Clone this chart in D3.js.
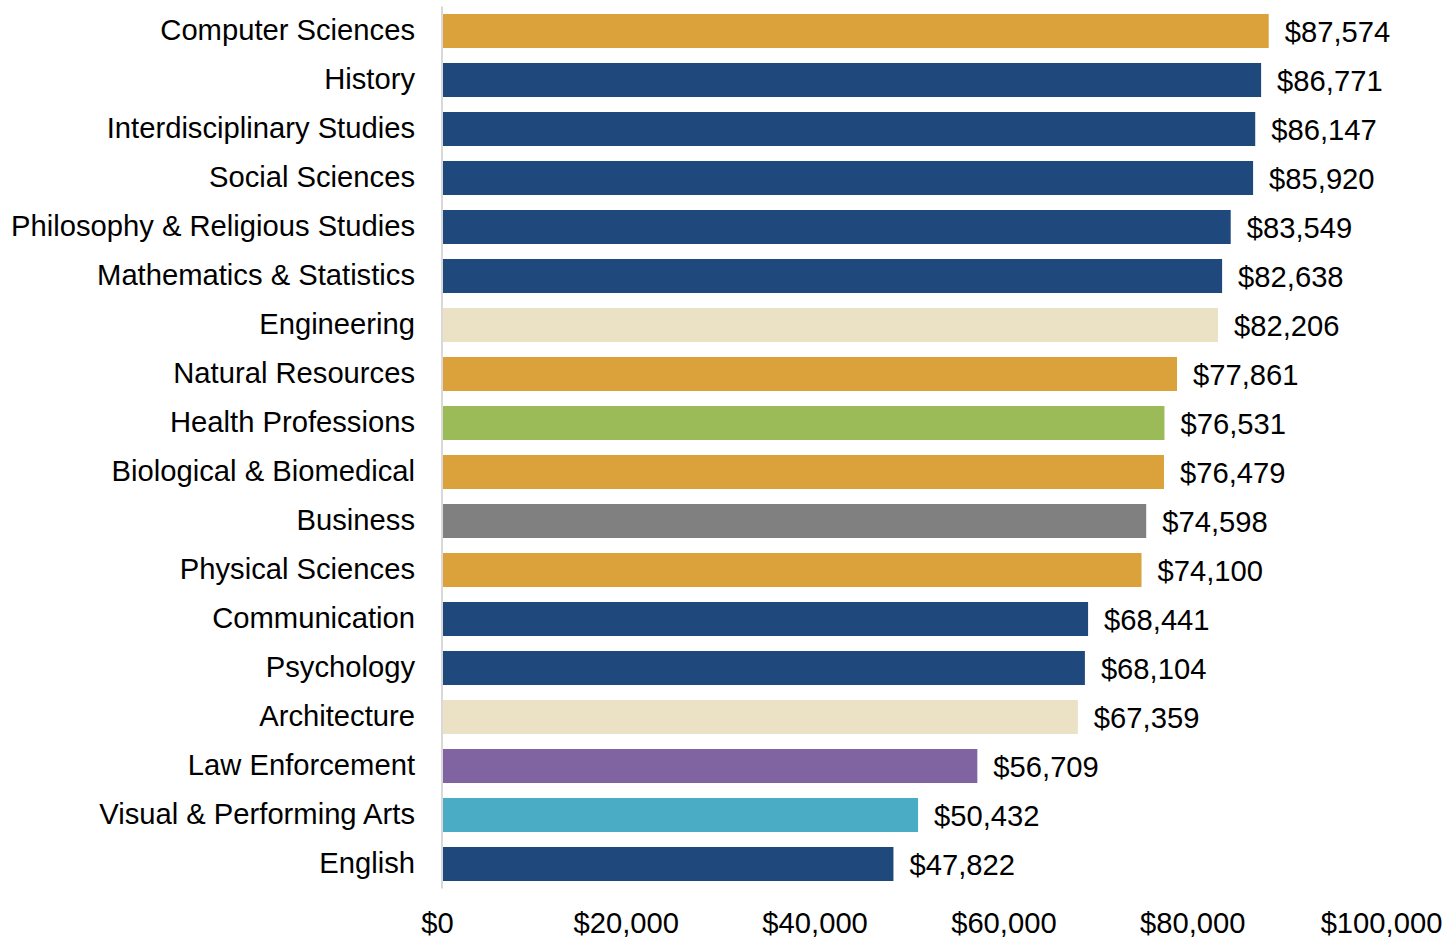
<!DOCTYPE html>
<html>
<head>
<meta charset="utf-8">
<script src="https://cdn.jsdelivr.net/npm/d3@7"></script>
<style>
  html, body { margin: 0; padding: 0; background: #fff; }
  svg { display: block; }
  text { font-family: "Liberation Sans", Arial, sans-serif; fill: #000; }
</style>
</head>
<body>
<svg id="chart" width="1447" height="938"></svg>
<script>
// Median earnings by field of study
const categories = [
  "Computer Sciences", "History", "Interdisciplinary Studies", "Social Sciences",
  "Philosophy & Religious Studies", "Mathematics & Statistics", "Engineering",
  "Natural Resources", "Health Professions", "Biological & Biomedical", "Business",
  "Physical Sciences", "Communication", "Psychology", "Architecture",
  "Law Enforcement", "Visual & Performing Arts", "English"
];
const values = [
  87574, 86771, 86147, 85920, 83549, 82638, 82206, 77861, 76531, 76479,
  74598, 74100, 68441, 68104, 67359, 56709, 50432, 47822
];
// Field group for each category (drives bar colour)
const groups = [
  "stem", "humanities", "humanities", "humanities", "humanities", "humanities",
  "design", "stem", "health", "stem", "business", "stem", "humanities",
  "humanities", "design", "law", "arts", "humanities"
];
const tickValues = [0, 20000, 40000, 60000, 80000, 100000];

const groupColors = {
  stem: "#DBA13B",
  humanities: "#1F497D",
  design: "#EBE1C5",
  health: "#9BBB59",
  business: "#808080",
  law: "#8064A2",
  arts: "#4BACC6"
};

const FONT = "29.2px";
const svg = d3.select("#chart");
const margin = { left: 442, top: 6.5, right: 61, bottom: 49.5 };
const width = 1447, height = 938;

const x = d3.scaleLinear()
  .domain([0, 100000])
  .range([margin.left, width - margin.right]);

const y = d3.scaleBand()
  .domain(categories)
  .range([margin.top, height - margin.bottom])
  .paddingInner(0.306)
  .paddingOuter(0.153);

const fmt = d3.format("$,");

// Bars
svg.append("g")
  .selectAll("rect")
  .data(categories)
  .join("rect")
  .attr("x", x(0) + 1)
  .attr("y", d => y(d))
  .attr("width", (d, i) => x(values[i]) - x(0) - 1)
  .attr("height", y.bandwidth())
  .attr("fill", (d, i) => groupColors[groups[i]]);

// Value labels
svg.append("g")
  .selectAll("text")
  .data(categories)
  .join("text")
  .attr("x", (d, i) => x(values[i]) + 16)
  .attr("y", d => y(d) + y.bandwidth() / 2)
  .attr("dy", "0.36em")
  .style("font-size", FONT)
  .text((d, i) => fmt(values[i]));

// Category axis
const yAxis = svg.append("g")
  .attr("transform", `translate(${x(0)},0)`)
  .call(d3.axisLeft(y).tickSize(0).tickPadding(27));
yAxis.select(".domain")
  .attr("stroke", "#D9D9D9")
  .attr("stroke-width", 2)
  .attr("d", `M0,${margin.top}V${height - margin.bottom}`);
yAxis.selectAll(".tick text")
  .style("font-size", FONT)
  .style("font-family", "'Liberation Sans', Arial, sans-serif")
  .attr("fill", "#000")
  .attr("dy", "0.3em");

// Value axis (labels only)
const xAxis = svg.append("g")
  .attr("transform", `translate(0,${height - margin.bottom})`)
  .call(d3.axisBottom(x).tickValues(tickValues).tickFormat(fmt).tickSize(0).tickPadding(24));
xAxis.select(".domain").remove();
xAxis.selectAll(".tick text")
  .style("font-size", FONT)
  .style("font-family", "'Liberation Sans', Arial, sans-serif")
  .attr("fill", "#000")
  .attr("dx", "-5");
</script>
</body>
</html>
